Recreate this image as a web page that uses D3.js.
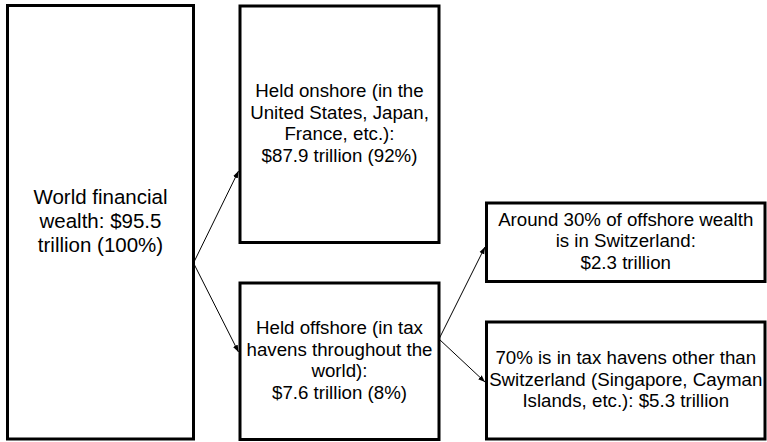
<!DOCTYPE html>
<html>
<head>
<meta charset="utf-8">
<script src="https://cdn.jsdelivr.net/npm/d3@7"></script>
<style>
  body { margin: 0; background: #fff; }
  text { font-family: "Liberation Sans", Arial, sans-serif; fill: #000; }
</style>
</head>
<body>
<script>
var w = 767;
var h = 442;

// boxes of the flow, left to right
var nodeIds = ["world", "onshore", "offshore", "switzerland", "otherHavens"];
var nodeLevel = [0, 1, 1, 2, 2];
var nodeLines = [
    ["World financial", "wealth: $95.5", "trillion (100%)"],
    ["Held onshore (in the", "United States, Japan,", "France, etc.):", "$87.9 trillion (92%)"],
    ["Held offshore (in tax", "havens throughout the", "world):", "$7.6 trillion (8%)"],
    ["Around 30% of offshore wealth", "is in Switzerland:", "$2.3 trillion"],
    ["70% is in tax havens other than", "Switzerland (Singapore, Cayman", "Islands, etc.): $5.3 trillion"]
];
var links = [
    ["world", "onshore"],
    ["world", "offshore"],
    ["offshore", "switzerland"],
    ["offshore", "otherHavens"]
];

// layout scales
var colX = d3.scaleOrdinal()
    .domain([0, 1, 2])
    .range([[7.5, 193.5], [240, 439], [486.5, 765]]);
var rowY = d3.scaleOrdinal()
    .domain(nodeIds)
    .range([[5.5, 439], [6, 242.5], [283, 439.5], [203, 281.5], [322, 439]]);
// where arrows leave (out) and arrive (in), as a fraction of box height
var anchorOut = d3.scaleOrdinal().domain(nodeIds).range([0.594, 0, 0.358, 0, 0]);
var anchorIn = d3.scaleOrdinal().domain(nodeIds).range([0, 0.698, 0.441, 0.56, 0.513]);
var fontSize = d3.scaleOrdinal().domain([0, 1, 2]).range([20.5, 18.7, 18.7]);

var nodes = nodeIds.map(function (id, i) {
    var xs = colX(nodeLevel[i]), ys = rowY(id);
    return { id: id, level: nodeLevel[i], lines: nodeLines[i], x0: xs[0], x1: xs[1], y0: ys[0], y1: ys[1] };
});
var byId = {};
nodes.forEach(function (n) { byId[n.id] = n; });

var svg = d3.select("body")
    .append("svg")
    .attr("width", w)
    .attr("height", h);

svg.append("defs").append("marker")
    .attr("id", "arrow")
    .attr("viewBox", "0 -3 7 6")
    .attr("refX", 7)
    .attr("refY", 0)
    .attr("markerUnits", "userSpaceOnUse")
    .attr("markerWidth", 7)
    .attr("markerHeight", 6)
    .attr("orient", "auto")
    .append("path")
    .attr("d", "M0,-2.6L7,0L0,2.6Z")
    .attr("fill", "#000");

svg.selectAll("line.link")
    .data(links)
    .enter()
    .append("line")
    .attr("class", "link")
    .attr("x1", function (d) { return byId[d[0]].x1; })
    .attr("y1", function (d) {
        var s = byId[d[0]];
        return s.y0 + anchorOut(s.id) * (s.y1 - s.y0);
    })
    .attr("x2", function (d) { return byId[d[1]].x0 - 1.5; })
    .attr("y2", function (d) {
        var t = byId[d[1]];
        return t.y0 + anchorIn(t.id) * (t.y1 - t.y0);
    })
    .attr("stroke", "#000")
    .attr("stroke-width", 1)
    .attr("marker-end", "url(#arrow)");

var box = svg.selectAll("g.node")
    .data(nodes)
    .enter()
    .append("g")
    .attr("class", "node");

box.append("rect")
    .attr("x", function (d) { return d.x0; })
    .attr("y", function (d) { return d.y0; })
    .attr("width", function (d) { return d.x1 - d.x0; })
    .attr("height", function (d) { return d.y1 - d.y0; })
    .attr("fill", "#fff")
    .attr("stroke", "#000")
    .attr("stroke-width", 3);

box.each(function (d) {
    var fs = fontSize(d.level);
    var lh = fs * 1.15;
    var cy = (d.y0 + d.y1) / 2;
    var cx = (d.x0 + d.x1) / 2;
    var n = d.lines.length;
    d3.select(this).selectAll("text")
        .data(d.lines)
        .enter()
        .append("text")
        .attr("x", cx)
        .attr("y", function (t, i) { return cy + (i - (n - 1) / 2) * lh + fs * 0.28; })
        .attr("text-anchor", "middle")
        .style("font-size", fs + "px")
        .text(function (t) { return t; });
});
</script>
</body>
</html>
